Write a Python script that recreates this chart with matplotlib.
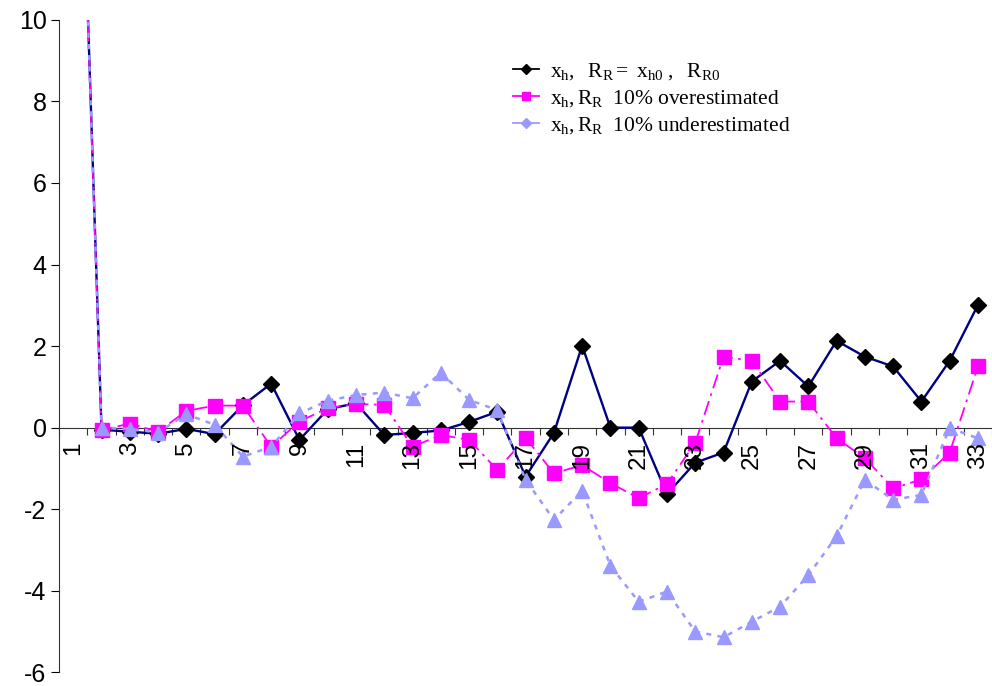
import matplotlib.pyplot as plt
from matplotlib.lines import Line2D
import numpy as np

plt.rcParams['font.family'] = ['Liberation Sans', 'DejaVu Sans']
plt.rcParams['mathtext.fontset'] = 'custom'
plt.rcParams['mathtext.rm'] = 'Liberation Serif'
plt.rcParams['mathtext.it'] = 'Liberation Serif:italic'
plt.rcParams['axes.unicode_minus'] = False

# categories 1..33
categories = list(range(1, 34))

# x_h, R_R = x_h0, R_R0
base = [21.0, -0.05, -0.1, -0.15, -0.03, -0.16, 0.55, 1.08, -0.3, 0.45,
        0.6, -0.18, -0.13, -0.07, 0.14, 0.39, -1.2, -0.13, 2.01, 0.0,
        0.0, -1.63, -0.86, -0.61, 1.13, 1.64, 1.01, 2.13, 1.74, 1.5,
        0.64, 1.64, 3.01]

# x_h, R_R 10% overestimated
over = [20.6, -0.06, 0.1, -0.1, 0.41, 0.54, 0.54, -0.47, 0.15, 0.48,
        0.58, 0.56, -0.47, -0.18, -0.3, -1.04, -0.25, -1.12, -0.92, -1.36,
        -1.73, -1.38, -0.37, 1.74, 1.64, 0.64, 0.64, -0.26, -0.75, -1.49,
        -1.27, -0.61, 1.5]

# x_h, R_R 10% underestimated
under = [20.8, 0.0, -0.03, -0.12, 0.33, 0.07, -0.71, -0.47, 0.35, 0.66,
         0.8, 0.86, 0.72, 1.35, 0.68, 0.43, -1.28, -2.26, -1.55, -3.39,
         -4.27, -4.02, -5.0, -5.14, -4.76, -4.39, -3.62, -2.66, -1.28, -1.77,
         -1.65, -0.01, -0.26]

yticks = [10, 8, 6, 4, 2, 0, -2, -4, -6]

fig = plt.figure(figsize=(9.92, 6.86), dpi=100)
ax = fig.add_axes([0.0596, 0.020, 0.9405, 0.951])

ax.plot(categories, base, color='#000080', lw=1.7, marker='D', ms=8,
        mfc='black', mec='black', zorder=3)
ax.plot(categories, over, color='#FF00FF', lw=1.3, ls=(0, (8, 3, 1.5, 3)),
        marker='s', ms=10, mfc='#FF00FF', mec='#FF00FF', zorder=4)
ax.plot(categories, under, color='#9999FF', lw=1.8, ls=(0, (2, 2.5)),
        marker='^', ms=10, mfc='#9999FF', mec='#9999FF', zorder=5)

ax.set_xlim(0.5, 33.5)
ax.set_ylim(-6, 10)
ax.set_yticks(yticks)
ax.tick_params(axis='y', direction='out', length=6, labelsize=18, pad=3)

# category axis crossing at zero
ax.spines['top'].set_visible(False)
ax.spines['right'].set_visible(False)
ax.spines['bottom'].set_position(('data', 0))
ax.spines['bottom'].set_color('#333333')
ax.spines['left'].set_color('#333333')
ax.set_xticks(np.arange(0.5, 34, 1))
ax.set_xticklabels([])
ax.tick_params(axis='x', direction='out', length=5, color='#333333')
for c in categories[::2]:
    ax.text(c, -0.35, str(c), rotation=90, ha='center', va='top',
            fontsize=17.5, zorder=6)

handles = [
    Line2D([], [], color='black', lw=1.3, marker='D', ms=5, mfc='black', mec='black'),
    Line2D([], [], color='#FF00FF', lw=1.3, marker='s', ms=6, mfc='#FF00FF', mec='#FF00FF'),
    Line2D([], [], color='#9999FF', lw=1.3, marker='D', ms=5, mfc='#9999FF', mec='#9999FF'),
]
labels = [
    r'$\mathrm{x_h,\ \ R_R = \ x_{h0}\ ,\ \ R_{R0}}$',
    r'$\mathrm{x_h, R_R\ \ 10\%\ overestimated}$',
    r'$\mathrm{x_h, R_R\ \ 10\%\ underestimated}$',
]
fig.legend(handles, labels, loc='upper left', bbox_to_anchor=(0.498, 0.94),
           frameon=False, fontsize=15.5, handlelength=1.2, handletextpad=0.5,
           labelspacing=0.25)

fig.savefig('out.png', dpi=100)
